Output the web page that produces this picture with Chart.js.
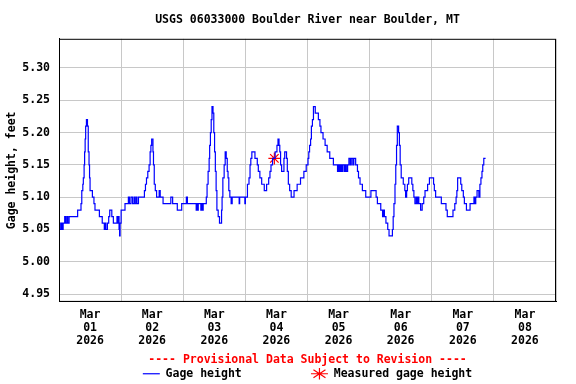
<!DOCTYPE html>
<html>
<head>
<meta charset="utf-8">
<script src="https://cdn.jsdelivr.net/npm/chart.js@4/dist/chart.umd.min.js"></script>
<style>
  html, body { margin: 0; padding: 0; background: #fff; }
  canvas { display: block; }
</style>
</head>
<body>
<canvas id="gageChart" width="576" height="384"></canvas>
<script>
// Gage height, hours since Mar 01 00:00 -> feet (15-min record)
const hours = [
    0, 0.5, 1.0, 1.3, 1.6, 2.2, 2.5, 3.0, 3.4, 3.9, 7.2, 8.5, 8.8, 9.2, 9.4, 9.7, 9.9, 10.1, 10.3, 10.6,
    11.0, 11.3, 11.6, 11.8, 12.0, 12.9, 13.5, 13.9, 15.6, 16.7, 17.5, 17.8, 18.1, 18.7, 19.2, 19.6, 20.4, 21.0, 22.4, 22.6,
    22.8, 23.2, 23.4, 23.6, 24.0, 25.5, 26.8, 27.2, 27.8, 28.4, 29.0, 29.3, 29.8, 30.1, 30.7, 33.0, 33.4, 33.8, 34.3, 34.8,
    35.2, 35.5, 35.8, 36.3, 36.5, 36.8, 37.2, 37.7, 38.7, 39.1, 40.2, 43.2, 43.9, 45.7, 47.4, 49.2, 49.6, 53.0, 53.2, 53.5,
    53.8, 54.8, 55.1, 55.4, 55.7, 56.9, 57.2, 57.6, 58.0, 58.2, 58.5, 58.8, 59.1, 59.5, 59.8, 60.1, 60.4, 60.7, 61.0, 61.5,
    62.0, 62.8, 63.0, 63.3, 63.8, 64.2, 64.6, 65.0, 65.3, 65.6, 66.0, 66.5, 66.9, 69.6, 69.8, 71.8, 72.0, 72.8, 73.4, 73.8,
    74.1, 74.5, 75.7, 76.6, 77.0, 77.6, 78.3, 79.3, 80.2, 81.0, 81.5, 81.9, 82.5, 83.5, 84.2, 84.6, 85.0, 85.3, 85.6, 86.0,
    86.9, 87.2, 87.9, 88.2, 88.6, 89.1, 89.7, 90.8, 92.0, 93.3, 94.6, 95.5, 96.2, 96.5, 96.8, 97.2, 97.5, 97.9, 98.3, 99.0,
    100.2, 100.8, 101.2, 102.0, 102.8, 103.6, 104.6, 106.0, 107.6, 108.0, 108.4, 108.8, 109.2, 109.6, 110.2, 110.6, 111.0, 111.5, 112.0, 112.5,
    112.9, 113.5, 113.9, 114.6, 115.3, 115.7, 116.3, 117.2, 118.5, 120.5, 122.5, 123.0, 124.3, 125.0, 125.3, 125.7, 126.3, 127.0, 127.5, 128.8,
    129.1, 129.4, 129.8, 130.1, 130.4, 130.7, 131.2, 131.5, 131.8, 132.2, 133.0, 133.6, 133.9, 134.3, 134.6, 135.1, 136.3, 136.7, 137.1, 137.5,
    138.0, 138.3, 138.7, 139.0, 139.7, 140.3, 140.9, 141.4, 142.4, 143.1, 144.7, 145.0, 145.5, 147.7, 149.5, 150.0, 152.2, 152.9, 153.4, 153.7,
    154.0, 155.2, 155.6, 156.2, 156.6, 157.4, 158.8, 160.3, 160.7, 161.0, 161.5, 162.2, 162.6, 163.0, 163.4, 163.7, 164.1, 164.8
];
const gage = [
    5.06, 5.05, 5.06, 5.05, 5.06, 5.07, 5.06, 5.07, 5.06, 5.07, 5.08, 5.09, 5.11, 5.12, 5.13, 5.15, 5.17, 5.19, 5.21, 5.22,
    5.21, 5.17, 5.15, 5.13, 5.11, 5.10, 5.09, 5.08, 5.07, 5.06, 5.05, 5.06, 5.05, 5.06, 5.07, 5.08, 5.07, 5.06, 5.07, 5.06,
    5.07, 5.05, 5.04, 5.06, 5.08, 5.09, 5.10, 5.09, 5.10, 5.09, 5.10, 5.09, 5.10, 5.09, 5.10, 5.11, 5.12, 5.13, 5.14, 5.15,
    5.17, 5.18, 5.19, 5.17, 5.15, 5.12, 5.11, 5.10, 5.11, 5.10, 5.09, 5.10, 5.09, 5.08, 5.09, 5.10, 5.09, 5.08, 5.09, 5.08,
    5.09, 5.08, 5.09, 5.08, 5.09, 5.10, 5.12, 5.14, 5.16, 5.18, 5.20, 5.22, 5.24, 5.23, 5.20, 5.17, 5.14, 5.11, 5.08, 5.07,
    5.06, 5.08, 5.10, 5.13, 5.15, 5.17, 5.16, 5.14, 5.13, 5.11, 5.10, 5.09, 5.10, 5.09, 5.10, 5.09, 5.10, 5.12, 5.13, 5.15,
    5.16, 5.17, 5.16, 5.15, 5.14, 5.13, 5.12, 5.11, 5.12, 5.13, 5.14, 5.15, 5.16, 5.17, 5.18, 5.19, 5.18, 5.17, 5.15, 5.14,
    5.16, 5.17, 5.16, 5.14, 5.12, 5.11, 5.10, 5.11, 5.12, 5.13, 5.14, 5.15, 5.16, 5.17, 5.18, 5.19, 5.21, 5.22, 5.24, 5.23,
    5.22, 5.21, 5.20, 5.19, 5.18, 5.17, 5.16, 5.15, 5.14, 5.15, 5.14, 5.15, 5.14, 5.15, 5.14, 5.15, 5.14, 5.15, 5.16, 5.15,
    5.16, 5.15, 5.16, 5.15, 5.14, 5.13, 5.12, 5.11, 5.10, 5.11, 5.10, 5.09, 5.08, 5.07, 5.08, 5.07, 5.06, 5.05, 5.04, 5.05,
    5.07, 5.09, 5.12, 5.15, 5.18, 5.21, 5.20, 5.18, 5.15, 5.13, 5.12, 5.11, 5.10, 5.11, 5.12, 5.13, 5.12, 5.11, 5.10, 5.09,
    5.10, 5.09, 5.10, 5.09, 5.08, 5.09, 5.10, 5.11, 5.12, 5.13, 5.12, 5.11, 5.10, 5.09, 5.08, 5.07, 5.08, 5.09, 5.10, 5.11,
    5.13, 5.12, 5.11, 5.10, 5.09, 5.08, 5.09, 5.10, 5.09, 5.10, 5.11, 5.10, 5.12, 5.13, 5.14, 5.15, 5.16, 5.16
];

// Field measurement
const measuredHours = [83.2];
const measuredGage = [5.16];

// Axis labels
const monthLabel = 'Mar';
const yearLabel = '2026';
const dayLabels = ['01', '02', '03', '04', '05', '06', '07', '08'];
const yTicks = [4.95, 5.00, 5.05, 5.10, 5.15, 5.20, 5.25, 5.30];

const FONT = "'DejaVu Sans Mono', monospace";
const GRID = '#c8c8c8';
const boldFont = { family: FONT, size: 11.5, weight: 'bold' };

// top + right frame of the plot area
const frameBox = {
    id: 'frameBox',
    afterDatasetsDraw(chart) {
        const { ctx, chartArea: a } = chart;
        ctx.save();
        ctx.strokeStyle = '#000';
        ctx.lineWidth = 1;
        ctx.strokeRect(a.left + 0.5, a.top + 0.5, a.right - a.left - 1, a.bottom - a.top - 1);
        ctx.restore();
    }
};

const ctx = document.getElementById('gageChart').getContext('2d');
new Chart(ctx, {
    type: 'line',
    data: {
        datasets: [{
            label: 'Gage height',
            data: hours.map((h, i) => ({ x: h, y: gage[i] })),
            borderColor: '#0000ff',
            backgroundColor: '#0000ff',
            borderWidth: 1.2,
            pointRadius: 0,
            stepped: true,
            pointStyle: 'line'
        }, {
            label: 'Measured gage height',
            data: measuredHours.map((h, i) => ({ x: h, y: measuredGage[i] })),
            showLine: false,
            pointStyle: 'star',
            pointRadius: 6,
            borderColor: '#ff0000',
            backgroundColor: '#ff0000',
            pointBorderWidth: 1.2
        }]
    },
    options: {
        responsive: false,
        animation: false,
        devicePixelRatio: 1,
        layout: { padding: { left: 0, right: 20, top: 0, bottom: 0 } },
        scales: {
            x: {
                type: 'linear',
                min: 0,
                max: 192,
                afterBuildTicks: (axis) => {
                    axis.ticks = [];
                    for (let h = 0; h <= 192; h += 12) axis.ticks.push({ value: h });
                },
                afterFit: (axis) => { axis.height = 46.6; },
                grid: {
                    drawTicks: false,
                    color: (c) => (c.tick && c.tick.value % 24 === 0 ? GRID : 'rgba(0,0,0,0)')
                },
                border: { color: '#000', width: 1 },
                ticks: {
                    autoSkip: false,
                    maxRotation: 0,
                    padding: 7,
                    color: '#000',
                    font: { ...boldFont, lineHeight: 1.13 },
                    callback: (v) => (v % 24 === 12 ? [monthLabel, dayLabels[(v - 12) / 24], yearLabel] : '')
                }
            },
            y: {
                min: 4.938,
                max: 5.345,
                afterBuildTicks: (axis) => {
                    axis.ticks = yTicks.map(v => ({ value: v }));
                },
                afterFit: (axis) => { axis.width = 59; },
                grid: { drawTicks: false, color: GRID },
                border: { color: '#000', width: 1 },
                ticks: {
                    padding: 9,
                    color: '#000',
                    font: boldFont,
                    callback: (v) => v.toFixed(2)
                },
                title: {
                    display: true,
                    text: 'Gage height, feet',
                    color: '#000',
                    padding: { top: 5, bottom: 0 },
                    font: boldFont
                }
            }
        },
        plugins: {
            title: {
                display: true,
                fullSize: false,
                text: 'USGS 06033000 Boulder River near Boulder, MT',
                color: '#000',
                padding: { top: 13, bottom: 12 },
                font: boldFont
            },
            subtitle: {
                display: true,
                fullSize: false,
                position: 'bottom',
                weight: 500,
                text: '---- Provisional Data Subject to Revision ----',
                color: '#ff0000',
                padding: { top: 4.6, bottom: 1.1 },
                font: boldFont
            },
            legend: {
                display: true,
                fullSize: false,
                position: 'bottom',
                maxHeight: 16,
                labels: {
                    usePointStyle: true,
                    pointStyleWidth: 17,
                    boxHeight: 8,
                    padding: 0,
                    color: '#000',
                    font: boldFont,
                    generateLabels: (chart) => {
                        const items = Chart.defaults.plugins.legend.labels.generateLabels(chart);
                        items[0].text += ' '.repeat(10);
                        return items;
                    }
                }
            },
            tooltip: { enabled: false }
        }
    },
    plugins: [frameBox]
});
</script>
</body>
</html>
